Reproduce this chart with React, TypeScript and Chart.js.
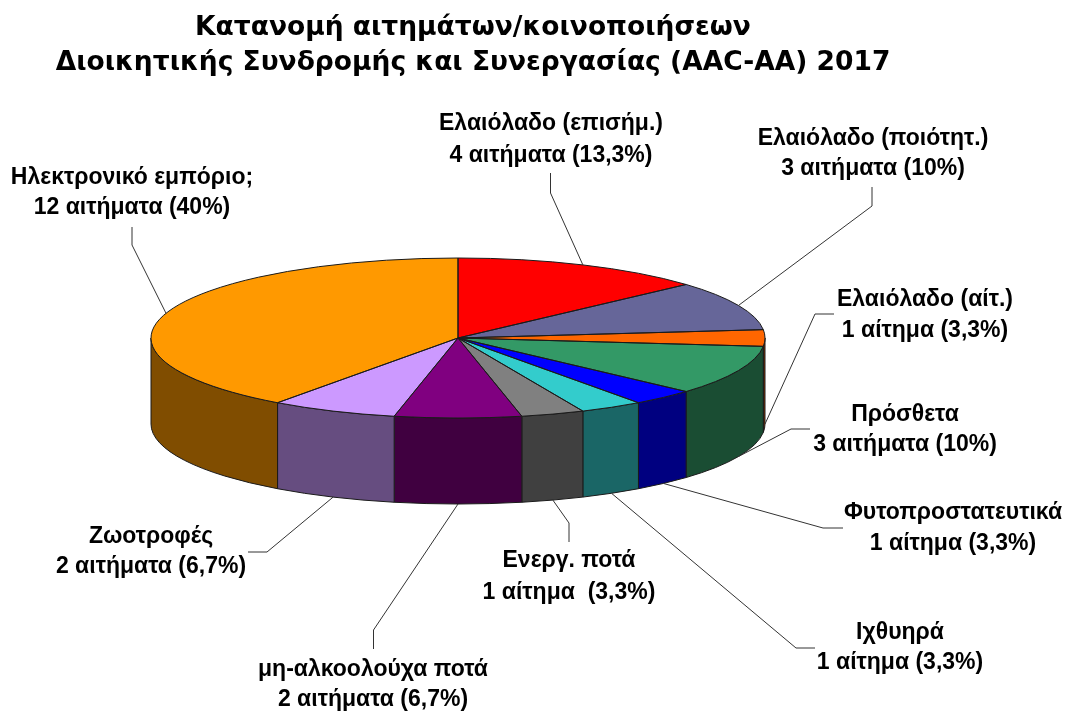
import React, { useEffect, useRef } from "react";
import { Chart, registerables } from "chart.js";

Chart.register(...registerables);

const titleLines = ["Κατανομή αιτημάτων/κοινοποιήσεων", "Διοικητικής Συνδρομής και Συνεργασίας (AAC-AA) 2017"];
const categories = [
  "Ελαιόλαδο (επισήμ.)",
  "Ελαιόλαδο (ποιότητ.)",
  "Ελαιόλαδο (αίτ.)",
  "Πρόσθετα",
  "Φυτοπροστατευτικά",
  "Ιχθυηρά",
  "Ενεργ. ποτά",
  "μη-αλκοολούχα ποτά",
  "Ζωοτροφές",
  "Ηλεκτρονικό εμπόριο;",
];
const requestCounts = [4, 3, 1, 3, 1, 1, 1, 2, 2, 12];
const countLabels = [
  "4 αιτήματα (13,3%)",
  "3 αιτήματα (10%)",
  "1 αίτημα (3,3%)",
  "3 αιτήματα (10%)",
  "1 αίτημα (3,3%)",
  "1 αίτημα (3,3%)",
  "1 αίτημα  (3,3%)",
  "2 αιτήματα (6,7%)",
  "2 αιτήματα (6,7%)",
  "12 αιτήματα (40%)",
];
const topColors = ["#FF0000", "#666699", "#FF6600", "#339966", "#0000FF", "#33CCCC", "#808080", "#800080", "#CC99FF", "#FF9900"];
const sideColors = ["#800000", "#33334D", "#803300", "#1A4D33", "#000080", "#1A6666", "#404040", "#400040", "#664D80", "#804D00"];

// Layout of the annotations: label centre x, first and second line centre y
const labelPlaces = [
  [551, 124, 156],
  [873, 139, 169],
  [925, 300, 331],
  [905, 415, 445],
  [953, 513, 544],
  [900, 633, 663],
  [569, 561, 593],
  [373, 670, 700],
  [151, 537, 567],
  [132, 178, 208],
];
// Leader elbows, from the label side towards the slice
const leaderElbows = [
  [[550.5, 173], [550.5, 193]],
  [[872, 187], [872, 206]],
  [[834, 314], [815, 314]],
  [[810, 429], [791, 429]],
  [[843, 528], [823, 528]],
  [[815, 648], [796, 648]],
  [[569, 542], [569, 523]],
  [[373.5, 649], [373.5, 630]],
  [[248, 552], [267, 552]],
  [[132, 227], [132, 245]],
];
// Does the leader land on the lower rim of the side wall (1) or the top face (0)
const leaderOnWall = [0, 0, 1, 1, 1, 1, 1, 1, 1, 0];

const CX = 458;
const CY = 338;
const RY = 80;
const DEPTH = 86;
const OUTLINE = "#1a1a1a";

const pie3d = {
  id: "pie3d",
  beforeDatasetsDraw(chart: any) {
    const ctx = chart.ctx;
    const arcs = chart.getDatasetMeta(0).data;
    ctx.save();
    arcs.forEach((arc: any, i: number) => {
      const a = Math.max(arc.startAngle, 0);
      const b = Math.min(arc.endAngle, Math.PI);
      if (a >= b) return;
      ctx.beginPath();
      ctx.ellipse(CX, CY, arc.outerRadius, RY, 0, a, b);
      ctx.ellipse(CX, CY + DEPTH, arc.outerRadius, RY, 0, b, a, true);
      ctx.closePath();
      ctx.fillStyle = sideColors[i];
      ctx.fill();
      ctx.strokeStyle = OUTLINE;
      ctx.lineWidth = 1;
      ctx.stroke();
    });
    ctx.restore();
  },
  beforeDatasetDraw(chart: any) {
    const ctx = chart.ctx;
    const arc = chart.getDatasetMeta(0).data[0];
    ctx.save();
    ctx.translate(CX, CY);
    ctx.scale(1, RY / arc.outerRadius);
    ctx.translate(-arc.x, -arc.y);
  },
  afterDatasetDraw(chart: any) {
    chart.ctx.restore();
  },
  afterDatasetsDraw(chart: any) {
    const ctx = chart.ctx;
    const arcs = chart.getDatasetMeta(0).data;
    ctx.save();
    ctx.strokeStyle = OUTLINE;
    ctx.lineWidth = 1;
    arcs.forEach((arc: any) => {
      ctx.beginPath();
      ctx.moveTo(CX, CY);
      ctx.ellipse(CX, CY, arc.outerRadius, RY, 0, arc.startAngle, arc.endAngle);
      ctx.closePath();
      ctx.stroke();
    });
    // leaders
    ctx.strokeStyle = "#333333";
    arcs.forEach((arc: any, i: number) => {
      const mid = (arc.startAngle + arc.endAngle) / 2;
      const ax = CX + arc.outerRadius * Math.cos(mid);
      const ay = CY + RY * Math.sin(mid) + (leaderOnWall[i] ? DEPTH : 0);
      const [p, q] = leaderElbows[i];
      ctx.beginPath();
      ctx.moveTo(p[0], p[1]);
      ctx.lineTo(q[0], q[1]);
      ctx.lineTo(ax, ay);
      ctx.stroke();
    });
    // labels
    ctx.fillStyle = "#000000";
    ctx.font = "bold 23px 'Liberation Sans'";
    ctx.textAlign = "center";
    ctx.textBaseline = "middle";
    categories.forEach((name, i) => {
      const [x, y1, y2] = labelPlaces[i];
      ctx.fillText(name, x, y1);
      ctx.fillText(countLabels[i], x, y2);
    });
    ctx.restore();
  },
};

export default function App() {
  const ref = useRef<HTMLCanvasElement>(null);
  useEffect(() => {
    const chart = new Chart(ref.current as HTMLCanvasElement, {
      type: "pie",
      data: {
        labels: categories,
        datasets: [
          {
            data: requestCounts,
            backgroundColor: topColors,
            borderWidth: 0,
            radius: 307,
            clip: false,
          } as any,
        ],
      },
      options: {
        responsive: false,
        animation: false,
        layout: { padding: { left: 0, right: 119, top: 0, bottom: 0 } },
        plugins: {
          legend: { display: false },
          tooltip: { enabled: false },
          title: {
            display: true,
            text: titleLines,
            fullSize: false,
            color: "#000000",
            font: { family: "'DejaVu Sans'", size: 26.5, weight: "bold", lineHeight: 1.3 },
            padding: { top: 11, bottom: 0 },
          },
        },
      },
      plugins: [pie3d],
    } as any);
    return () => chart.destroy();
  }, []);
  return (
    <div style={{ position: "absolute", left: 0, top: 0, width: 1065, height: 711, background: "#ffffff" }}>
      <canvas ref={ref} width={1065} height={711} style={{ display: "block" }} />
    </div>
  );
}
